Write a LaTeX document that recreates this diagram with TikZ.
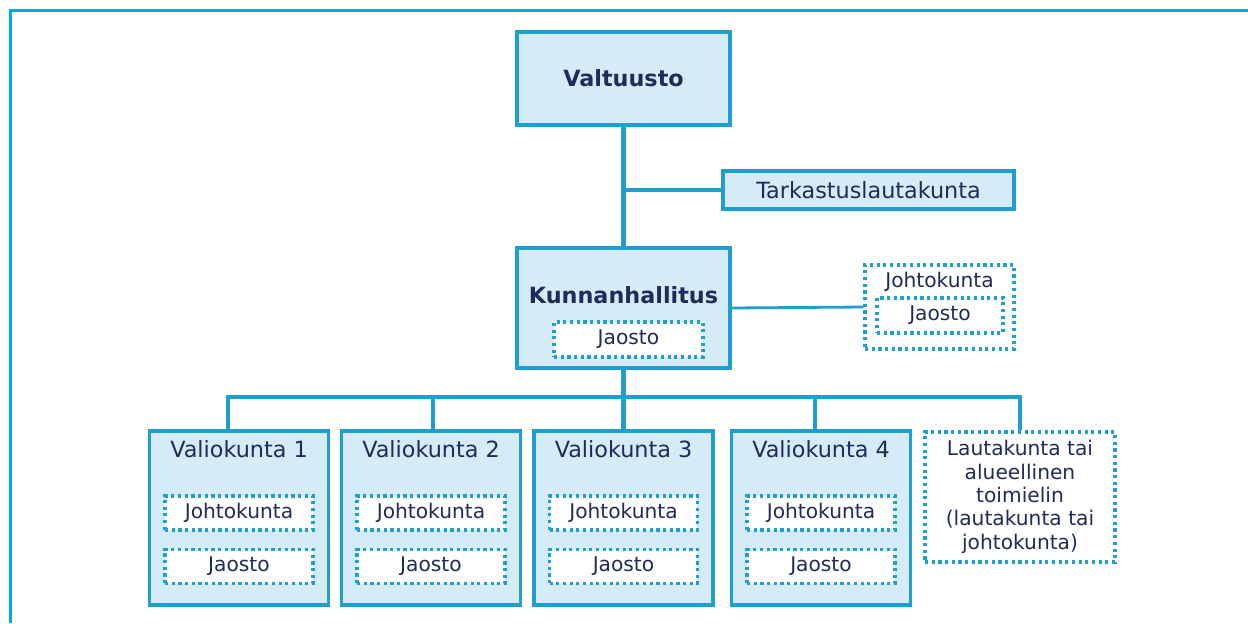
\documentclass[tikz,border=0pt]{standalone}
\usepackage{fontspec}
\setmainfont{DejaVu Sans}
\usetikzlibrary{positioning}
\definecolor{frameblue}{HTML}{00AAE8}
\definecolor{boxblue}{HTML}{1F9FCF}
\definecolor{boxfill}{HTML}{D5EBF8}
\definecolor{navy}{HTML}{1F2B5B}
\newcommand\bigtxt{\fontsize{12.7}{15}\selectfont}
\newcommand\smalltxt{\fontsize{11.5}{13.3}\selectfont}
\tikzset{
  organ/.style={draw=boxblue, line width=2pt, fill=boxfill, text=navy, inner sep=0pt, font=\bigtxt},
  subbox/.style={draw=boxblue, line width=1.8pt, dash pattern=on 1.8pt off 2pt, fill=white, text=navy, inner sep=0pt, font=\smalltxt},
  lbl/.style={text=navy, inner sep=0pt},
  link/.style={draw=boxblue, line width=2.6pt},
}
\begin{document}
\begin{tikzpicture}[x=0.02cm, y=-0.02cm]
    \useasboundingbox (0,0) rectangle (1248,623);
    \draw[frameblue, line width=2pt] (1248,10.5) -- (10.5,10.5) -- (10.5,623); %frame

    \node[organ, minimum width=4.26cm, minimum height=1.86cm, font=\bigtxt\bfseries] (valt) at (623.5,78.5) {Valtuusto}; %valtuusto
    \node[organ, minimum width=5.82cm, minimum height=0.76cm] (tark) at (868.5,190) {Tarkastuslautakunta}; %tarkastus

    \node[organ, minimum width=4.26cm, minimum height=2.4cm] (kunn) at (623.5,308) {}; %kunnanhallitus
    \node[lbl, font=\bigtxt\bfseries] (kunnlbl) at (623.5,295) {Kunnanhallitus};
    \node[subbox, minimum width=2.98cm, minimum height=0.7cm] (kjao) at (628.5,339.5) {Jaosto};

    \node[subbox, minimum width=2.98cm, minimum height=1.68cm] (johto) at (939.5,307) {}; %johtokunta
    \node[lbl, font=\smalltxt] (johtolbl) at (939.5,282) {Johtokunta};
    \node[subbox, minimum width=2.52cm, minimum height=0.7cm] (johtojao) at (940,315.5) {Jaosto};

    % valiokunnat
    \foreach \x/\n in {239/1, 431/2, 623.5/3, 821/4} {
        \node[organ, minimum width=3.58cm, minimum height=3.48cm] (v\n) at (\x,518) {};
        \node[lbl, font=\bigtxt] (v\n lbl) at (\x,449) {Valiokunta \n};
        \node[subbox, minimum width=2.96cm, minimum height=0.68cm] (v\n jk) at (\x,513) {Johtokunta};
        \node[subbox, minimum width=2.96cm, minimum height=0.68cm] (v\n ja) at (\x,566.5) {Jaosto};
    }
    \node[subbox, minimum width=3.8cm, minimum height=2.6cm, align=center] (lauta) at (1020,497)
        {Lautakunta tai\\alueellinen\\toimielin\\(lautakunta tai\\johtokunta)};

    % connectors
    \coordinate (b1) at (228,397);
    \coordinate (b2) at (433,397);
    \coordinate (b3) at (623.5,397);
    \coordinate (b4) at (815,397);
    \coordinate (b5) at (1020,397);
    \draw[link] (valt.south) -- (kunn.north);
    \draw[link] (valt.south |- tark.west) -- (tark.west);
    \draw[link] (kunn.south) -- (b3) -- (v3.north);
    \draw[link] (b1 |- v1.north) -- (b1) -- (b5) -- (lauta.north);
    \draw[link] (b2) -- (b2 |- v2.north);
    \draw[link] (b4) -- (b4 |- v4.north);
    \draw[draw=boxblue, line width=1.6pt] (kunn.east) -- (johto.west);
\end{tikzpicture}
\end{document}
